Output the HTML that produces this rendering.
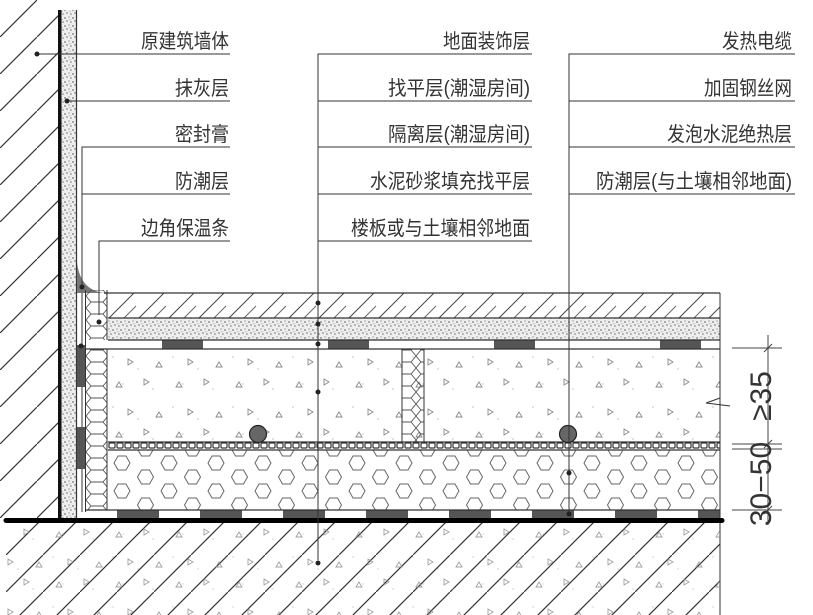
<!DOCTYPE html>
<html><head><meta charset="utf-8"><style>
html,body{margin:0;padding:0;background:#fff;width:813px;height:615px;overflow:hidden}
text{font-family:"Liberation Sans","Noto Sans CJK SC",sans-serif;font-size:20px;fill:#333}
</style></head><body>
<svg width="813" height="615" viewBox="0 0 813 615" xmlns="http://www.w3.org/2000/svg">
<defs>
<pattern id="wallh" width="37" height="37" patternUnits="userSpaceOnUse" x="0" y="0">
<line x1="-1" y1="38" x2="38" y2="-1" stroke="#333" stroke-width="1.2"/>
</pattern>
<pattern id="ground" width="37" height="37" patternUnits="userSpaceOnUse" x="6" y="0">
<line x1="-1" y1="38" x2="38" y2="-1" stroke="#333" stroke-width="1.2"/>
</pattern>
<pattern id="deco" width="30" height="26" patternUnits="userSpaceOnUse" x="108" y="293">
<line x1="0" y1="26" x2="26" y2="0" stroke="#444" stroke-width="1"/>
<line x1="15" y1="26" x2="28" y2="13" stroke="#666" stroke-width="1"/>
</pattern>
<pattern id="stip" width="8" height="8" patternUnits="userSpaceOnUse">
<rect width="8" height="8" fill="#eee"/>
<circle cx="1" cy="2" r="0.9" fill="#777"/><circle cx="5" cy="1" r="0.7" fill="#999"/>
<circle cx="3" cy="5" r="0.9" fill="#888"/><circle cx="7" cy="6" r="0.8" fill="#777"/>
<circle cx="6" cy="3.5" r="0.6" fill="#aaa"/>
</pattern>
<pattern id="conc" width="60" height="50" patternUnits="userSpaceOnUse" x="108" y="349">
<circle cx="5" cy="8" r="0.6" fill="#999"/><circle cx="30" cy="20" r="0.6" fill="#999"/>
<circle cx="45" cy="40" r="0.6" fill="#999"/><circle cx="15" cy="35" r="0.6" fill="#aaa"/>
<path d="M20 10 l5 3 l-5 3z" fill="none" stroke="#888" stroke-width="0.9"/>
<path d="M48 18 l3 -5 l3 5z" fill="none" stroke="#888" stroke-width="0.9"/>
<path d="M8 38 l3 -5 l3 5z" fill="none" stroke="#888" stroke-width="0.9"/>
<path d="M36 30 l5 3 l-5 3z" fill="none" stroke="#888" stroke-width="0.9"/>
</pattern>
<pattern id="hexbig" width="47" height="28" patternUnits="userSpaceOnUse" x="108" y="449">
<path d="M6 14 l4 -7 h8 l4 7 l-4 7 h-8z" fill="none" stroke="#666" stroke-width="1"/>
<path d="M29.5 0 l4 -7 h8 l4 7 l-4 7 h-8z" fill="none" stroke="#666" stroke-width="1"/>
<path d="M29.5 28 l4 -7 h8 l4 7 l-4 7 h-8z" fill="none" stroke="#666" stroke-width="1"/>
</pattern>
<pattern id="hexs" width="22" height="24" patternUnits="userSpaceOnUse" x="86" y="290">
<path d="M0 6 l5 -6 h12 l5 6 v0 M0 6 l5 6 h12 l5 -6 M5 12 l-5 6 l5 6 M17 12 l5 6 l-5 6 M5 24 h12" fill="none" stroke="#555" stroke-width="0.9"/>
</pattern>
<pattern id="mesh" width="8" height="8" patternUnits="userSpaceOnUse" x="108" y="442">
<rect x="1" y="1" width="6" height="5" rx="1" fill="#fff" stroke="#333" stroke-width="1.2"/>
</pattern>
</defs>

<rect x="0" y="0" width="58" height="520" fill="url(#wallh)"/>
<rect x="58" y="10" width="3.5" height="512" fill="#111"/>
<rect x="61.5" y="10" width="14.5" height="510" fill="url(#stip)"/>
<line x1="76.5" y1="10" x2="76.5" y2="520" stroke="#333" stroke-width="1.2"/>
<path d="M77 262 Q80 290 104 293 L77 293 Z" fill="#777"/>
<line x1="82" y1="293" x2="82" y2="512" stroke="#333"/>
<rect x="77" y="345" width="8" height="42" fill="#555"/>
<rect x="77" y="427" width="8" height="42" fill="#555"/>
<line x1="85.5" y1="290" x2="85.5" y2="512" stroke="#333"/>
<rect x="86" y="290" width="21" height="220" fill="url(#hexs)"/>
<line x1="107" y1="290" x2="107" y2="510" stroke="#333"/>

<rect x="108" y="293" width="612" height="25" fill="url(#deco)"/>
<rect x="108" y="318" width="612" height="22" fill="url(#stip)"/>
<rect x="86" y="340" width="634" height="9" fill="#fff"/>
<g fill="#555"><rect x="162" y="340" width="41" height="9"/><rect x="328" y="340" width="41" height="9"/><rect x="494" y="340" width="41" height="9"/><rect x="660" y="340" width="41" height="9"/></g>
<rect x="108" y="349" width="612" height="93" fill="url(#conc)"/>
<rect x="402" y="349" width="22" height="93" fill="url(#hexs)"/>
<line x1="402" y1="349" x2="402" y2="442" stroke="#333"/><line x1="424" y1="349" x2="424" y2="442" stroke="#333"/>
<rect x="108" y="442" width="612" height="8" fill="url(#mesh)"/>
<rect x="108" y="450" width="612" height="60" fill="url(#hexbig)"/>
<rect x="86" y="510" width="634" height="8" fill="#fff"/>
<g fill="#555"><rect x="117" y="510" width="42" height="8"/><rect x="200" y="510" width="42" height="8"/><rect x="283" y="510" width="42" height="8"/><rect x="366" y="510" width="42" height="8"/><rect x="449" y="510" width="42" height="8"/><rect x="532" y="510" width="42" height="8"/><rect x="615" y="510" width="42" height="8"/><rect x="698" y="510" width="22" height="8"/></g>
<g stroke="#333" stroke-width="1.3" fill="none">
<line x1="104" y1="293" x2="720" y2="293"/><line x1="108" y1="318" x2="720" y2="318"/>
<line x1="108" y1="340" x2="720" y2="340"/><line x1="86" y1="349" x2="720" y2="349"/>
<line x1="108" y1="442" x2="720" y2="442"/><line x1="108" y1="450" x2="720" y2="450"/>
<line x1="86" y1="510" x2="720" y2="510"/>
<line x1="720" y1="293" x2="720" y2="615" stroke-width="1"/>
</g>
<rect x="6" y="523" width="714" height="92" fill="url(#ground)"/>
<rect x="6" y="523" width="714" height="92" fill="url(#conc)" opacity="0.8"/>
<line x1="6" y1="520.5" x2="722" y2="520.5" stroke="#000" stroke-width="5" stroke-linecap="round"/>
<circle cx="258" cy="434" r="8.5" fill="#666" stroke="#222" stroke-width="1.2"/>
<circle cx="568" cy="434" r="8.5" fill="#666" stroke="#222" stroke-width="1.2"/>

<path d="M720 398 l-14 5 l24 3" fill="none" stroke="#333"/>

<g stroke="#444" stroke-width="1">
<line x1="768" y1="335" x2="768" y2="525"/>
<line x1="732" y1="348" x2="782" y2="348"/><line x1="732" y1="444" x2="782" y2="444"/>
<line x1="732" y1="449" x2="782" y2="449"/><line x1="732" y1="510" x2="782" y2="510"/>
<line x1="764" y1="352" x2="772" y2="344"/><line x1="764" y1="448" x2="772" y2="440"/><line x1="764" y1="514" x2="772" y2="506"/>
</g>
<text transform="translate(771,396) rotate(-90)" text-anchor="middle" style="font-size:30px;font-family:'Liberation Sans',sans-serif" fill="#333">≥35</text>
<text transform="translate(771,484) rotate(-90)" text-anchor="middle" style="font-size:30px;font-family:'Liberation Sans',sans-serif" fill="#333">30−50</text>

<g stroke="#333" stroke-width="1" fill="none">
<line x1="37" y1="54" x2="230" y2="54"/>
<line x1="67" y1="101" x2="230" y2="101"/>
<polyline points="82,285 82,147 230,147"/>
<polyline points="82,194 230,194"/>
<polyline points="99,315 99,241 230,241"/>
<polyline points="318,560 318,54 532,54"/>
<line x1="318" y1="101" x2="532" y2="101"/><line x1="318" y1="147" x2="532" y2="147"/>
<line x1="318" y1="194" x2="532" y2="194"/><line x1="318" y1="241" x2="532" y2="241"/>
<polyline points="569,515 569,54 795,54"/>
<line x1="569" y1="101" x2="795" y2="101"/><line x1="569" y1="147" x2="795" y2="147"/>
<line x1="569" y1="194" x2="795" y2="194"/>
</g>
<g fill="#222">
<circle cx="37" cy="54" r="2.5"/><circle cx="67" cy="101" r="2.5"/><circle cx="82" cy="287" r="2.5"/><circle cx="99" cy="322" r="2.5"/><circle cx="81" cy="346" r="2.5"/>
<circle cx="318" cy="303" r="2.5"/><circle cx="318" cy="324" r="2.5"/><circle cx="318" cy="344" r="2.5"/><circle cx="318" cy="392" r="2.5"/><circle cx="318" cy="563" r="2.5"/>
<circle cx="569" cy="473" r="2.5"/><circle cx="569" cy="514" r="2.5"/>
</g>

<g text-anchor="end">
<text x="229" y="48" textLength="88" lengthAdjust="spacingAndGlyphs">原建筑墙体</text>
<text x="229" y="95" textLength="54" lengthAdjust="spacingAndGlyphs">抹灰层</text>
<text x="229" y="141" textLength="54" lengthAdjust="spacingAndGlyphs">密封膏</text>
<text x="229" y="188" textLength="54" lengthAdjust="spacingAndGlyphs">防潮层</text>
<text x="229" y="235" textLength="88" lengthAdjust="spacingAndGlyphs">边角保温条</text>
<text x="530" y="48" textLength="87" lengthAdjust="spacingAndGlyphs">地面装饰层</text>
<text x="530" y="95" textLength="142" lengthAdjust="spacingAndGlyphs">找平层(潮湿房间)</text>
<text x="530" y="141" textLength="142" lengthAdjust="spacingAndGlyphs">隔离层(潮湿房间)</text>
<text x="530" y="188" textLength="160" lengthAdjust="spacingAndGlyphs">水泥砂浆填充找平层</text>
<text x="530" y="235" textLength="179" lengthAdjust="spacingAndGlyphs">楼板或与土壤相邻地面</text>
<text x="792" y="48" textLength="70" lengthAdjust="spacingAndGlyphs">发热电缆</text>
<text x="792" y="95" textLength="88" lengthAdjust="spacingAndGlyphs">加固钢丝网</text>
<text x="792" y="141" textLength="125" lengthAdjust="spacingAndGlyphs">发泡水泥绝热层</text>
<text x="792" y="188" textLength="196" lengthAdjust="spacingAndGlyphs">防潮层(与土壤相邻地面)</text>
</g>
</svg>
</body></html>
